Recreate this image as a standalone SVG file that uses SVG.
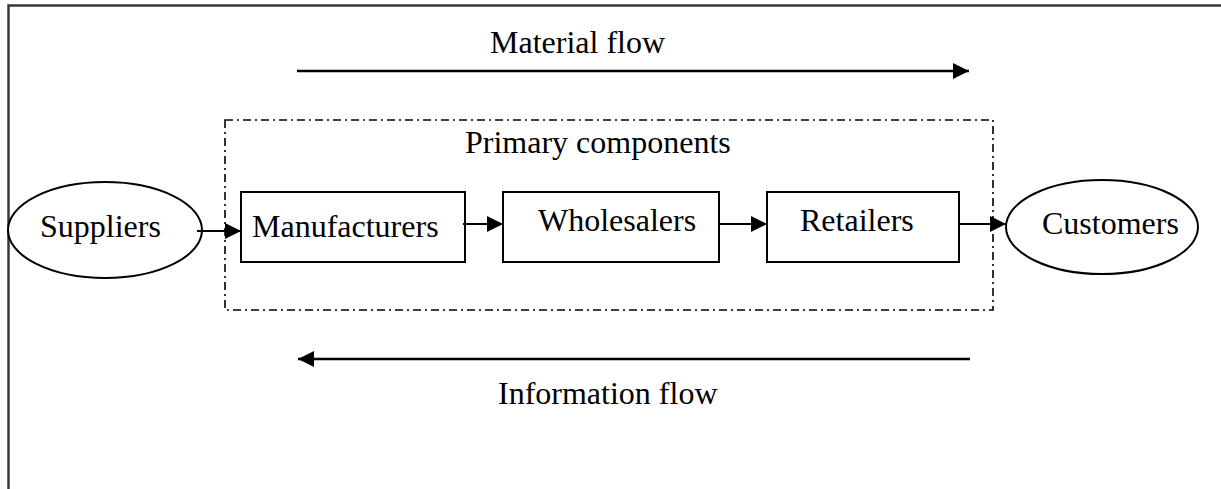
<svg xmlns="http://www.w3.org/2000/svg" width="1221" height="489" viewBox="0 0 1221 489">
<style>
text{font-family:"Liberation Serif","Times New Roman",serif;font-size:32px;fill:#000}
.n{fill:#fff;stroke:#000;stroke-width:2}
.c{stroke:#000;stroke-width:2;fill:none}
.flow{stroke:#000;stroke-width:2.5;fill:none}
</style>
<defs>
<marker id="ah" markerUnits="userSpaceOnUse" markerWidth="17" markerHeight="17" refX="16" refY="8" orient="auto" overflow="visible">
<path d="M0,0 L16,8 L0,16 Z" fill="#000"/>
</marker>
</defs>
<rect width="1221" height="489" fill="#fff"/>
<g id="frame">
<path d="M8.5,489 V5.5 H1221" fill="none" stroke="#3a3a3a" stroke-width="2.5"/>
</g>
<g id="primary-components">
<rect x="225" y="120" width="768" height="190" fill="none" stroke="#000" stroke-width="1.6" stroke-dasharray="8,4,2,4"/>
<text x="465" y="153">Primary components</text>
</g>
<g id="suppliers">
<ellipse class="n" cx="105" cy="230" rx="97" ry="48"/>
<text x="40" y="237">Suppliers</text>
</g>
<g id="manufacturers">
<rect class="n" x="241" y="192" width="224" height="70"/>
<text x="252" y="237">Manufacturers</text>
</g>
<g id="wholesalers">
<rect class="n" x="503" y="192" width="216" height="70"/>
<text x="538" y="231">Wholesalers</text>
</g>
<g id="retailers">
<rect class="n" x="767" y="192" width="192" height="70"/>
<text x="800" y="231">Retailers</text>
</g>
<g id="customers">
<ellipse class="n" cx="1102" cy="227" rx="96" ry="47"/>
<text x="1042" y="234">Customers</text>
</g>
<g id="connectors">
<line class="c" x1="197" y1="231" x2="241" y2="231" marker-end="url(#ah)"/>
<line class="c" x1="463" y1="224" x2="503" y2="224" marker-end="url(#ah)"/>
<line class="c" x1="719" y1="224" x2="767" y2="224" marker-end="url(#ah)"/>
<line class="c" x1="959" y1="224" x2="1006" y2="224" marker-end="url(#ah)"/>
<line class="flow" x1="297" y1="71" x2="969" y2="71" marker-end="url(#ah)"/>
<line class="flow" x1="970" y1="359" x2="298" y2="359" marker-end="url(#ah)"/>
</g>
<g id="labels">
<text x="490" y="53">Material flow</text>
<text x="498" y="404">Information flow</text>
</g>
</svg>
